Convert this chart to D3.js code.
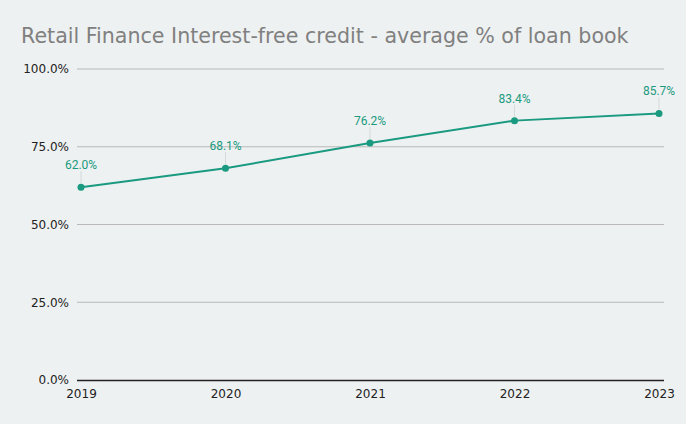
<!DOCTYPE html>
<html>
<head>
<meta charset="utf-8">
<script src="https://cdn.jsdelivr.net/npm/d3@7"></script>
<style>
  body { margin: 0; background: #eef1f1; }
  svg { display: block; }
</style>
</head>
<body>
<div id="wrapper"></div>
<script>
const years = ["2019", "2020", "2021", "2022", "2023"]
const shares = [62.0, 68.1, 76.2, 83.4, 85.7]
const yTicks = [0, 25, 50, 75, 100]
const title = "Retail Finance Interest-free credit - average % of loan book"

const lineColor = "#1a9a80"

let dimensions = {
    width: 686,
    height: 424,
    margin: { top: 69, right: 22, bottom: 44, left: 77 },
}
dimensions.boundedWidth = dimensions.width - dimensions.margin.left - dimensions.margin.right
dimensions.boundedHeight = dimensions.height - dimensions.margin.top - dimensions.margin.bottom

const wrapper = d3.select("#wrapper")
    .append("svg")
    .attr("width", dimensions.width)
    .attr("height", dimensions.height)

wrapper.append("rect")
    .attr("width", dimensions.width)
    .attr("height", dimensions.height)
    .attr("fill", "#eef1f1")

wrapper.append("text")
    .attr("x", 21)
    .attr("y", 43)
    .attr("fill", "#808080")
    .style("font-family", "DejaVu Sans")
    .style("font-size", "20.6px")
    .text(title)

const bounds = wrapper.append("g")
    .attr("transform", `translate(${dimensions.margin.left},${dimensions.margin.top})`)

const xScale = d3.scalePoint()
    .domain(years)
    .range([4, dimensions.boundedWidth - 5])

const yScale = d3.scaleLinear()
    .domain([0, 100])
    .range([dimensions.boundedHeight, 0])

// gridlines
bounds.selectAll(".grid")
    .data(yTicks.filter(d => d > 0))
    .enter()
    .append("line")
    .attr("x1", 0)
    .attr("x2", dimensions.boundedWidth)
    .attr("y1", d => yScale(d))
    .attr("y2", d => yScale(d))
    .attr("stroke", "#b8b8b8")
    .attr("stroke-width", 1)

const yAxis = bounds.append("g")
    .call(d3.axisLeft(yScale).tickValues(yTicks).tickSize(0).tickPadding(8).tickFormat(d => d.toFixed(1) + "%"))
yAxis.select(".domain").remove()
yAxis.selectAll("text")
    .attr("fill", "#222")
    .style("font-family", "DejaVu Sans")
    .style("font-size", "12px")

const xAxis = bounds.append("g")
    .attr("transform", `translate(0,${dimensions.boundedHeight})`)
    .call(d3.axisBottom(xScale).tickSize(0).tickPadding(9))
xAxis.select(".domain")
    .attr("d", `M0,0.5H${dimensions.boundedWidth}`)
    .attr("stroke", "#222")
    .attr("stroke-width", 1.5)
xAxis.selectAll("text")
    .attr("fill", "#222")
    .style("font-family", "DejaVu Sans")
    .style("font-size", "12px")

// leader lines
bounds.selectAll(".leader")
    .data(shares)
    .enter()
    .append("line")
    .attr("x1", (d, i) => xScale(years[i]))
    .attr("x2", (d, i) => xScale(years[i]))
    .attr("y1", d => yScale(d) - 4)
    .attr("y2", d => yScale(d) - 16)
    .attr("stroke", "#d6d9d9")
    .attr("stroke-width", 1)

const line = d3.line()
    .x((d, i) => xScale(years[i]))
    .y(d => yScale(d))

bounds.append("path")
    .datum(shares)
    .attr("d", line)
    .attr("fill", "none")
    .attr("stroke", lineColor)
    .attr("stroke-width", 2)

bounds.selectAll(".dot")
    .data(shares)
    .enter()
    .append("circle")
    .attr("cx", (d, i) => xScale(years[i]))
    .attr("cy", d => yScale(d))
    .attr("r", 3.5)
    .attr("fill", lineColor)

bounds.selectAll(".label")
    .data(shares)
    .enter()
    .append("text")
    .attr("x", (d, i) => xScale(years[i]))
    .attr("y", d => yScale(d) - 18)
    .attr("text-anchor", "middle")
    .attr("fill", lineColor)
    .style("font-family", "Roboto")
    .style("font-size", "12px")
    .text(d => d.toFixed(1) + "%")
</script>
</body>
</html>
